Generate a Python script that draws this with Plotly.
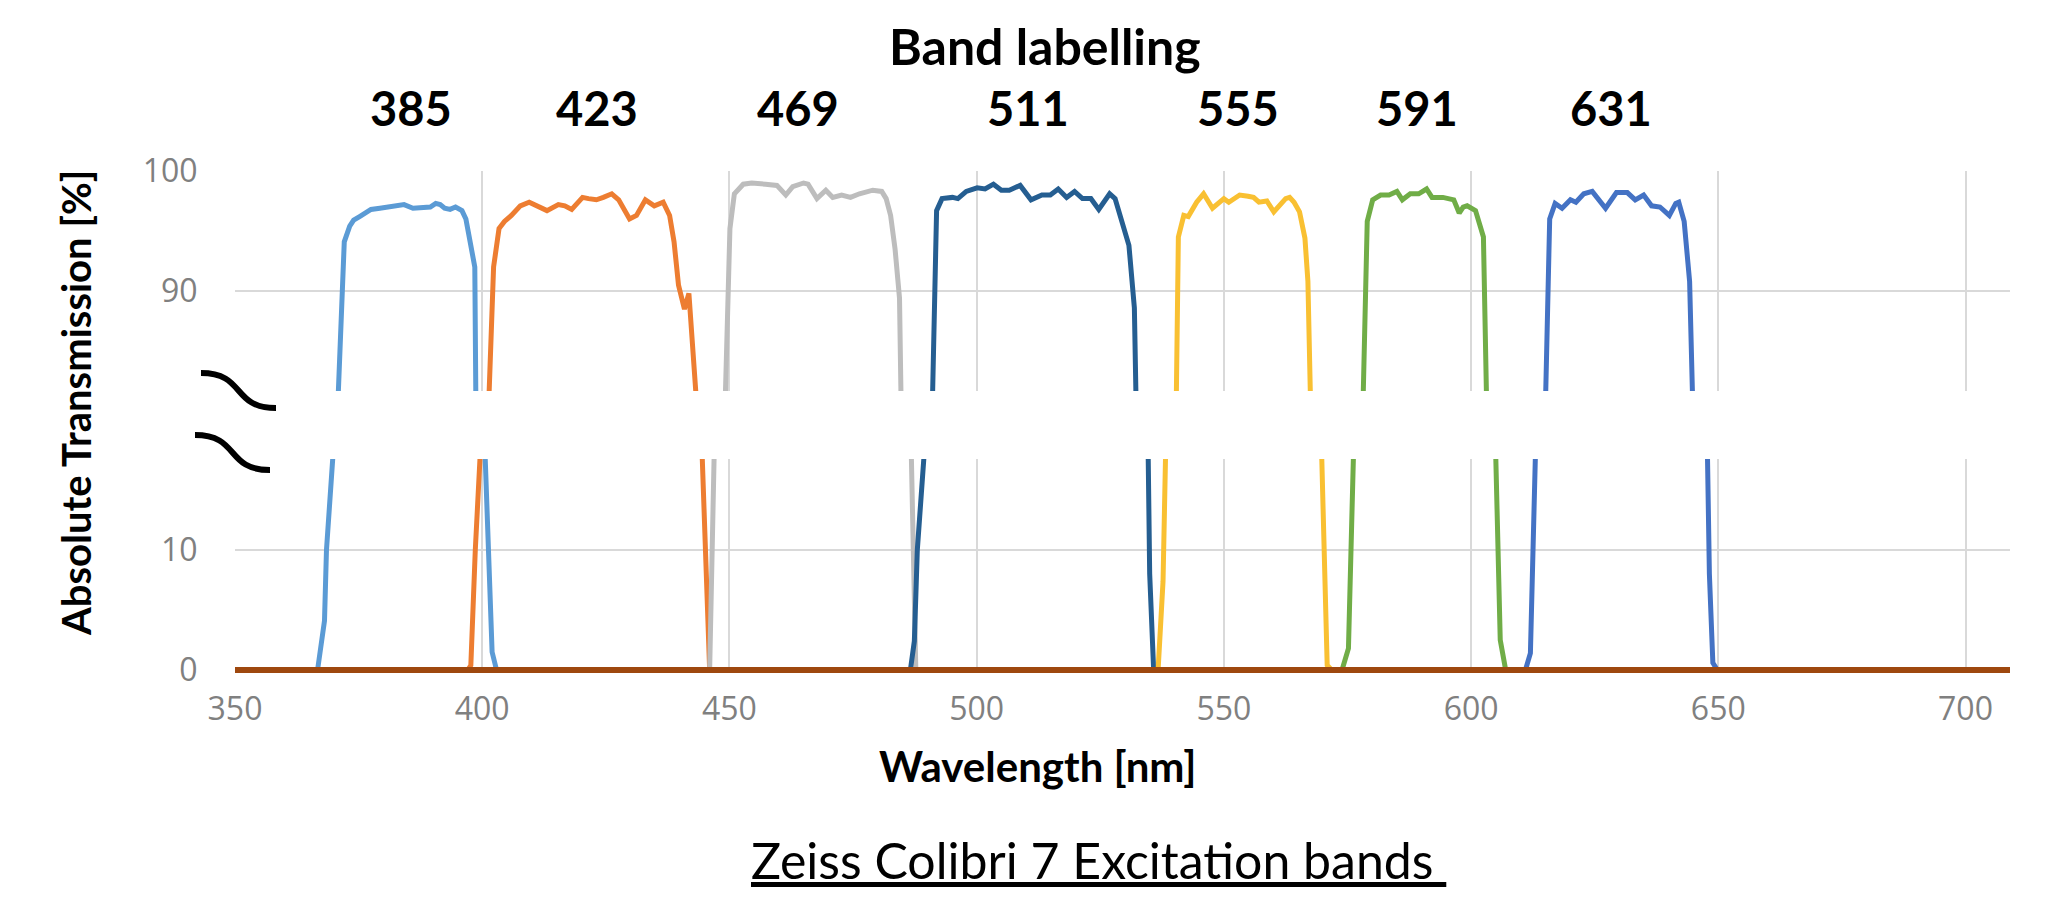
import plotly.graph_objects as go

# ---------------- data ----------------
wl_385 = [366.7, 368.1, 368.5, 368.9, 370.9, 372.1, 373.2, 374.0, 375.2, 376.5, 377.5, 379.3, 381.5, 383.0,
          384.2, 386.0, 388.0, 389.5, 390.6, 391.5, 392.4, 393.5, 394.6, 395.9, 396.7, 398.5, 398.7,
          400.6, 401.2, 402.0, 402.9]
t_385 = [0, 4.1, 10, 17.7, 81.6, 94.1, 95.4, 95.9, 96.2, 96.5, 96.8, 96.9, 97.0, 97.1,
         97.2, 96.9, 97.0, 97.0, 97.3, 97.2, 96.9, 96.8, 97.0, 96.7, 96.0, 92.0, 81.6,
         17.7, 10, 1.5, 0]

wl_423 = [397.1, 397.7, 398.6, 399.2, 401.4, 402.3, 403.4, 404.5, 405.9, 407.7, 409.5, 411.3, 413.1,
          415.4, 416.7, 418.1, 420.3, 421.5, 423.1, 424.5, 426.2, 427.6, 428.7, 429.8, 431.2, 433.0,
          434.8, 436.6, 437.9, 438.8, 439.7, 440.9, 441.8, 443.2, 444.5, 445.3, 446.0]
t_423 = [0, 0.4, 10, 17.7, 81.6, 92.0, 95.2, 95.8, 96.3, 97.1, 97.4, 97.0, 96.7,
         97.2, 97.1, 96.8, 97.8, 97.7, 97.6, 97.8, 98.1, 97.6, 96.8, 96.0, 96.3, 97.6,
         97.1, 97.4, 96.3, 94.1, 90.5, 88.5, 89.8, 81.6, 17.7, 8, 0]

wl_469 = [446.0, 446.4, 446.9, 449.2, 450.1, 451.0, 452.8, 454.5, 456.4, 457.3, 459.6, 461.4, 462.8,
          465.0, 465.9, 467.7, 469.5, 470.9, 472.7, 474.5, 476.3, 479.0, 480.8, 481.7, 482.6, 483.5,
          484.4, 485.4, 486.8, 487.7]
t_469 = [0, 10, 17.7, 81.6, 95.2, 98.1, 98.9, 99.0, 99.0, 98.9, 98.8, 98.0, 98.7,
         99.0, 98.9, 97.7, 98.4, 97.8, 98.0, 97.8, 98.1, 98.4, 98.3, 97.7, 96.3, 93.5,
         89.4, 81.6, 17.7, 0]

wl_511 = [486.6, 487.4, 488.0, 488.4, 491.1, 491.9, 493.0, 495.1, 496.2, 497.9, 500.1, 501.7, 503.4,
          505.0, 506.6, 508.8, 511.0, 513.2, 514.9, 516.5, 518.2, 519.8, 521.4, 523.1, 524.7, 526.9,
          528.0, 529.7, 530.8, 531.9, 532.4, 534.7, 535.0, 535.8]
t_511 = [0, 2.4, 10, 17.7, 81.6, 96.7, 97.7, 97.8, 97.7, 98.3, 98.6, 98.5, 98.9,
         98.4, 98.4, 98.8, 97.6, 98.0, 98.0, 98.5, 97.8, 98.3, 97.7, 97.7, 96.8, 98.1,
         97.7, 95.5, 93.8, 88.6, 81.6, 17.7, 8, 0]

wl_555 = [536.7, 537.7, 538.2, 540.4, 540.8, 541.9, 542.8, 544.5, 545.9, 547.7, 549.0, 550.0, 551.0,
          553.2, 554.9, 556.0, 557.1, 558.7, 560.1, 562.5, 563.3, 564.2, 565.3, 566.4, 567.0, 567.8,
          569.8, 570.9, 571.8]
t_555 = [0, 7.4, 17.7, 81.6, 94.5, 96.3, 96.2, 97.4, 98.1, 96.9, 97.4, 97.7, 97.4,
         98.0, 97.9, 97.8, 97.4, 97.5, 96.6, 97.7, 97.8, 97.4, 96.6, 94.4, 90.8, 81.6,
         17.7, 0.4, 0]

wl_591 = [573.9, 575.2, 576.2, 578.2, 579.0, 580.1, 581.7, 583.4, 585.0, 586.1, 587.7, 589.4, 591.0,
          592.1, 594.3, 596.5, 597.6, 598.4, 599.2, 600.9, 602.5, 603.1, 605.0, 605.9, 607.0]
t_591 = [0, 1.8, 17.7, 81.6, 95.8, 97.6, 98.0, 98.0, 98.3, 97.6, 98.1, 98.1, 98.5,
         97.8, 97.8, 97.6, 96.5, 97.0, 97.1, 96.7, 94.5, 81.6, 17.7, 2.5, 0]

wl_631 = [611.0, 612.0, 613.0, 615.1, 615.9, 617.0, 618.4, 620.1, 621.2, 622.8, 624.5, 625.6, 627.2,
          629.4, 631.6, 633.2, 634.9, 636.5, 638.2, 640.1, 641.4, 642.0, 643.1, 644.2, 645.3,
          647.8, 648.2, 648.9, 649.8]
t_631 = [0, 1.4, 17.7, 81.6, 96.0, 97.3, 96.9, 97.6, 97.4, 98.1, 98.3, 97.7, 96.9,
         98.2, 98.2, 97.6, 98.0, 97.1, 97.0, 96.3, 97.3, 97.4, 95.8, 90.8, 81.6,
         17.7, 8, 0.6, 0]

baseline_wl = [350, 709]
baseline_t = [0, 0]

band_labels = ["385", "423", "469", "511", "555", "591", "631"]
band_label_pos = [385.5, 423.3, 463.9, 510.3, 552.9, 589.1, 628.2]

x_ticks = [350, 400, 450, 500, 550, 600, 650, 700]
y_ticks_low = [0, 10]
y_ticks_high = [90, 100]

series = [
    (wl_385, t_385, "#5B9BD5"),
    (wl_423, t_423, "#ED7D31"),
    (wl_469, t_469, "#BDBDBD"),
    (wl_511, t_511, "#255E91"),
    (wl_555, t_555, "#F9C032"),
    (wl_591, t_591, "#70AD47"),
    (wl_631, t_631, "#4472C4"),
]

# ---------------- figure ----------------
fig = go.Figure()
for wl, t, col in series:
    for xa, ya in (("x", "y"), ("x2", "y2")):
        fig.add_trace(go.Scatter(x=wl, y=t, mode="lines", xaxis=xa, yaxis=ya,
                                 line=dict(color=col, width=5), showlegend=False,
                                 hoverinfo="skip"))
fig.add_trace(go.Scatter(x=baseline_wl, y=baseline_t, mode="lines", xaxis="x", yaxis="y",
                         line=dict(color="#9E480E", width=6), showlegend=False, hoverinfo="skip"))

grid = "#D9D9D9"
tickfont = dict(family="Open Sans", size=32, color="#808080")

W, H = 2048, 914
# plot area: x 227..2002, y 163..665 (value 0 sits at y=662)
L, R, T, B = 227, 46, 163, 249
PW, PH = W - L - R, H - T - B
Y0 = 662  # pixel row of T=0


def px_x(x):
    return (x - L) / PW


def px_y(y):
    return (H - B - y) / PH


low_top = px_y(451)
high_bot = px_y(383)
px_per_unit = 12.0
low_min = -(H - B - Y0) / px_per_unit
low_max = (Y0 - 451) / px_per_unit

fig.update_layout(
    width=W, height=H,
    margin=dict(l=L, r=R, t=T, b=B, pad=0),
    paper_bgcolor="white", plot_bgcolor="white",
    showlegend=False,
    xaxis=dict(domain=[0, 1], anchor="y", range=[350, 709], tickvals=x_ticks,
               showgrid=True, gridcolor=grid, gridwidth=2, zeroline=False, showline=False,
               ticks="outside", ticklen=8, tickcolor="rgba(0,0,0,0)", tickfont=tickfont),
    xaxis2=dict(domain=[0, 1], anchor="y2", range=[350, 709], tickvals=x_ticks, matches="x",
                showgrid=True, gridcolor=grid, gridwidth=2, zeroline=False, showline=False,
                showticklabels=False),
    yaxis=dict(domain=[0, low_top], anchor="x", range=[low_min, low_max], tickvals=y_ticks_low,
               showgrid=True, gridcolor=grid, gridwidth=2, zeroline=False, showline=False,
               ticks="outside", ticklen=30, tickcolor="rgba(0,0,0,0)", tickfont=tickfont),
    yaxis2=dict(domain=[high_bot, 1], anchor="x2", range=[81.67, 100], tickvals=y_ticks_high,
                showgrid=True, gridcolor=grid, gridwidth=2, zeroline=False, showline=False,
                ticks="outside", ticklen=30, tickcolor="rgba(0,0,0,0)", tickfont=tickfont),
)

ann = []
ann.append(dict(text="<b>Band labelling</b>", x=px_x(1037), y=px_y(38), xref="paper", yref="paper",
                showarrow=False, font=dict(family="Lato", size=50, color="black"),
                xanchor="center", yanchor="middle"))
for lab, pos in zip(band_labels, band_label_pos):
    ann.append(dict(text="<b>%s</b>" % lab, x=pos, y=px_y(100), xref="x2", yref="paper",
                    showarrow=False, font=dict(family="Lato", size=47, color="black"),
                    xanchor="center", yanchor="middle"))
ann.append(dict(text="<b>Absolute Transmission [%]</b>", x=px_x(68), y=px_y(395), xref="paper",
                yref="paper", showarrow=False, textangle=-90,
                font=dict(family="Lato", size=40, color="black"),
                xanchor="center", yanchor="middle"))
ann.append(dict(text="<b>Wavelength [nm]</b>", x=px_x(1030), y=px_y(758), xref="paper", yref="paper",
                showarrow=False, font=dict(family="Lato", size=42, color="black"),
                xanchor="center", yanchor="middle"))
ann.append(dict(text="<u>Zeiss Colibri 7 Excitation bands </u>", x=px_x(1090), y=px_y(852),
                xref="paper", yref="paper", showarrow=False,
                font=dict(family="Lato", size=50, color="black"),
                xanchor="center", yanchor="middle"))
fig.update_layout(annotations=ann)


def seg(p0, p1):
    (x0, y0), (x1, y1) = p0, p1
    c1 = (x0 + 45, y0)
    c2 = (x1 - 45, y1)
    pts = [(px_x(a), px_y(b)) for a, b in ((x0, y0), c1, c2, (x1, y1))]
    return "M %f,%f C %f,%f %f,%f %f,%f" % (pts[0] + pts[1] + pts[2] + pts[3])


fig.update_layout(shapes=[
    dict(type="path", path=seg((193, 365), (268, 400)), xref="paper", yref="paper",
         line=dict(color="black", width=6), layer="above"),
    dict(type="path", path=seg((187, 427), (262, 462)), xref="paper", yref="paper",
         line=dict(color="black", width=6), layer="above"),
])

fig.write_html("out.html")
